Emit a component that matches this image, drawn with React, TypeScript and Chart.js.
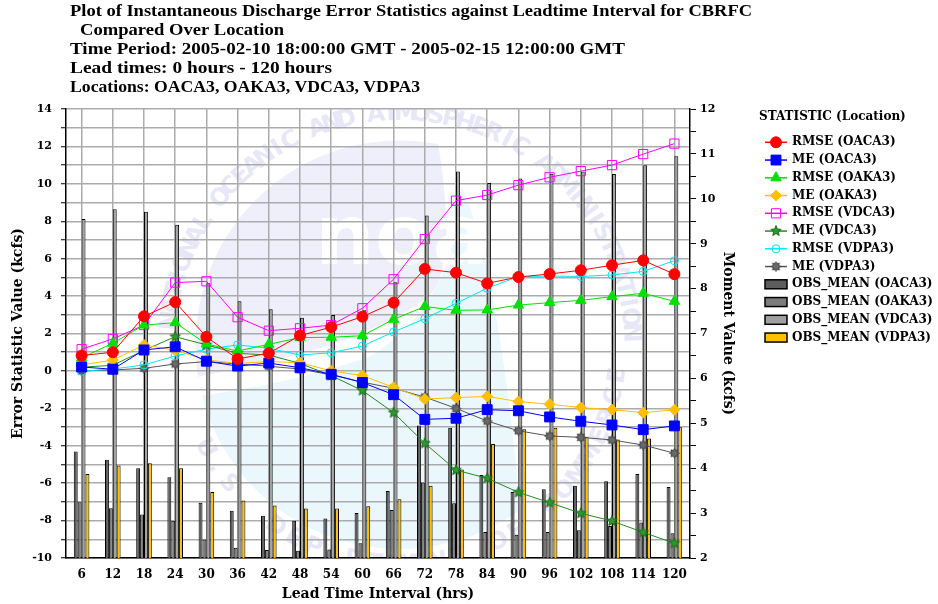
import React, { useEffect, useRef } from 'react';
import { Chart, registerables } from 'chart.js';

Chart.register(...registerables);

const leadTimes = ['6', '12', '18', '24', '30', '36', '42', '48', '54', '60', '66', '72', '78', '84', '90', '96', '102', '108', '114', '120'];

const rmseOACA3 = [0.82, 1.0, 2.92, 3.68, 1.82, 0.64, 0.95, 1.89, 2.34, 2.9, 3.65, 5.45, 5.25, 4.68, 5.02, 5.18, 5.38, 5.65, 5.91, 5.17];
const meOACA3 = [0.21, 0.09, 1.12, 1.29, 0.52, 0.26, 0.42, 0.17, -0.18, -0.62, -1.27, -2.59, -2.53, -2.07, -2.13, -2.46, -2.69, -2.89, -3.14, -2.94];
const rmseOAKA3 = [0.7, 1.48, 2.45, 2.58, 1.44, 1.06, 1.42, 1.78, 1.8, 1.88, 2.76, 3.44, 3.24, 3.26, 3.52, 3.65, 3.77, 3.97, 4.15, 3.72];
const meOAKA3 = [0.32, 0.58, 1.39, 1.1, 0.59, 0.4, 0.5, 0.44, 0.0, -0.25, -0.88, -1.5, -1.43, -1.36, -1.64, -1.78, -1.96, -2.07, -2.23, -2.08];
const rmseVDCA3 = [1.16, 1.71, 2.45, 4.72, 4.79, 2.87, 2.15, 2.28, 2.45, 3.35, 4.9, 7.05, 9.1, 9.4, 9.93, 10.35, 10.68, 11.0, 11.59, 12.15];
const meVDCA3 = [0.2, 0.3, 1.1, 1.83, 1.39, 0.94, 0.85, 0.4, -0.25, -1.05, -2.23, -3.87, -5.3, -5.74, -6.49, -7.04, -7.61, -8.02, -8.63, -9.21];
const rmseVDPA3 = [-0.02, 0.1, 0.32, 0.8, 1.16, 1.39, 1.21, 0.85, 0.97, 1.33, 2.08, 2.79, 3.61, 4.42, 5.04, 5.07, 5.05, 5.13, 5.32, 5.89];
const meVDPA3 = [0.0, 0.05, 0.14, 0.37, 0.5, 0.37, 0.25, 0.1, -0.21, -0.6, -0.93, -1.4, -2.0, -2.68, -3.2, -3.48, -3.55, -3.69, -3.96, -4.4];

const obsMeanOACA3 = [4.37, 4.19, 4.0, 3.8, 3.23, 3.05, 2.94, 2.83, 2.88, 3.0, 3.49, 4.95, 4.9, 3.85, 3.47, 3.53, 3.61, 3.71, 3.87, 3.58];
const obsMeanOAKA3 = [3.24, 3.11, 2.97, 2.83, 2.41, 2.23, 2.18, 2.16, 2.19, 2.33, 3.07, 3.68, 3.22, 2.58, 2.52, 2.58, 2.62, 2.71, 2.79, 2.55];
const obsMeanVDCA3 = [9.55, 9.77, 9.71, 9.42, 8.12, 7.72, 7.54, 7.35, 7.41, 7.52, 8.14, 9.63, 10.61, 10.35, 10.45, 10.56, 10.61, 10.55, 10.75, 10.95];
const obsMeanVDPA3 = [3.87, 4.06, 4.11, 4.0, 3.47, 3.28, 3.17, 3.1, 3.1, 3.15, 3.31, 3.61, 3.97, 4.54, 4.87, 4.9, 4.7, 4.64, 4.66, 4.91];

const titleLines = [
  'Plot of Instantaneous Discharge Error Statistics against Leadtime Interval for CBRFC',
  'Compared Over Location',
  'Time Period: 2005-02-10 18:00:00 GMT - 2005-02-15 12:00:00 GMT',
  'Lead times: 0 hours - 120 hours',
  'Locations: OACA3, OAKA3, VDCA3, VDPA3',
];

const legendTitle = 'STATISTIC (Location)';
const leftAxisTitle = 'Error Statistic Value (kcfs)';
const rightAxisTitle = 'Moment Value (kcfs)';
const bottomAxisTitle = 'Lead Time Interval (hrs)';

const SERIF = '"DejaVu Serif", serif';
const TITLE_FONT = 'bold 17px "Liberation Serif", serif';

function makeStar(fill: string, stroke: string, spikes: number, outer: number, inner: number) {
  const size = Math.ceil(outer * 2 + 3);
  const c = document.createElement('canvas');
  c.width = size;
  c.height = size;
  const ctx = c.getContext('2d')!;
  const cx = size / 2;
  const cy = size / 2;
  ctx.beginPath();
  for (let i = 0; i < spikes * 2; i++) {
    const r = i % 2 === 0 ? outer : inner;
    const a = -Math.PI / 2 + (i * Math.PI) / spikes;
    const x = cx + r * Math.cos(a);
    const y = cy + r * Math.sin(a);
    if (i === 0) ctx.moveTo(x, y);
    else ctx.lineTo(x, y);
  }
  ctx.closePath();
  ctx.fillStyle = fill;
  ctx.fill();
  ctx.strokeStyle = stroke;
  ctx.lineWidth = 1;
  ctx.stroke();
  return c;
}

function drawMarker(ctx: CanvasRenderingContext2D, style: any, x: number, y: number, r: number, fill: string, stroke: string) {
  if (typeof style !== 'string') {
    ctx.drawImage(style, x - style.width / 2, y - style.height / 2);
    return;
  }
  ctx.beginPath();
  if (style === 'circle') {
    ctx.arc(x, y, r, 0, Math.PI * 2);
  } else if (style === 'rect') {
    const s = r * Math.SQRT1_2;
    ctx.rect(x - s, y - s, 2 * s, 2 * s);
  } else if (style === 'rectRot') {
    ctx.moveTo(x, y - r);
    ctx.lineTo(x + r, y);
    ctx.lineTo(x, y + r);
    ctx.lineTo(x - r, y);
    ctx.closePath();
  } else if (style === 'triangle') {
    let a = 0;
    ctx.moveTo(x + Math.sin(a) * r, y - Math.cos(a) * r);
    a += (2 * Math.PI) / 3;
    ctx.lineTo(x + Math.sin(a) * r, y - Math.cos(a) * r);
    a += (2 * Math.PI) / 3;
    ctx.lineTo(x + Math.sin(a) * r, y - Math.cos(a) * r);
    ctx.closePath();
  }
  ctx.fillStyle = fill;
  ctx.fill();
  ctx.strokeStyle = stroke;
  ctx.lineWidth = 1;
  ctx.stroke();
}

function drawArcText(ctx: CanvasRenderingContext2D, text: string, cx: number, cy: number, R: number, a0: number, a1: number, bottom: boolean) {
  const n = text.length;
  for (let i = 0; i < n; i++) {
    const t = a0 + ((a1 - a0) * i) / (n - 1);
    ctx.save();
    ctx.translate(cx + R * Math.cos(t), cy + R * Math.sin(t));
    ctx.rotate(bottom ? t - Math.PI / 2 : t + Math.PI / 2);
    ctx.fillText(text[i], 0, 0);
    ctx.restore();
  }
}

function drawWatermark(chart: any) {
  const { ctx, chartArea: a } = chart;
  if (!a) return;
  const w = a.right - a.left;
  const h = a.bottom - a.top;
  const cx = a.left + w * 0.535;
  const cy = a.top + h * 0.525;
  const R = h * 0.455;
  ctx.save();
  ctx.beginPath();
  ctx.rect(a.left, a.top, w, h);
  ctx.clip();

  const lx = cx + R * Math.cos(Math.PI * 0.95);
  const ly = cy + R * Math.sin(Math.PI * 0.95);
  ctx.beginPath();
  ctx.arc(cx, cy, R, Math.PI * 0.95, Math.PI * 1.56);
  ctx.bezierCurveTo(cx + 0.25 * R, cy - 0.6 * R, cx + 0.25 * R, cy - 0.3 * R, cx + 0.12 * R, cy - 0.22 * R);
  ctx.bezierCurveTo(cx - 0.2 * R, cy + 0.0 * R, cx - 0.6 * R, cy + 0.08 * R, lx, ly);
  ctx.closePath();
  ctx.fillStyle = '#efeffb';
  ctx.fill();

  const lx2 = cx + R * Math.cos(Math.PI * 0.92);
  const ly2 = cy + R * Math.sin(Math.PI * 0.92);
  ctx.beginPath();
  ctx.arc(cx, cy, R, Math.PI * 0.92, Math.PI * 0.3, true);
  ctx.bezierCurveTo(cx + 0.55 * R, cy + 0.3 * R, cx + 0.45 * R, cy - 0.45 * R, cx + 0.3 * R, cy - 0.78 * R);
  ctx.bezierCurveTo(cx + 0.28 * R, cy - 0.4 * R, cx + 0.15 * R, cy - 0.12 * R, cx - 0.15 * R, cy + 0.06 * R);
  ctx.bezierCurveTo(cx - 0.45 * R, cy + 0.16 * R, cx - 0.75 * R, cy + 0.22 * R, lx2, ly2);
  ctx.closePath();
  ctx.fillStyle = '#eaf7fd';
  ctx.fill();

  ctx.fillStyle = '#ffffff';
  ctx.font = 'bold 84px "DejaVu Sans", sans-serif';
  ctx.textAlign = 'center';
  ctx.textBaseline = 'middle';
  ctx.fillText('noaa', cx + 0.15 * R, cy - 0.5 * R);

  ctx.fillStyle = '#e7e7f7';
  ctx.font = 'bold 24px "DejaVu Sans", sans-serif';
  drawArcText(ctx, 'NATIONAL OCEANIC AND ATMOSPHERIC ADMINISTRATION', cx, cy, R * 1.13, (-174 * Math.PI) / 180, (-3 * Math.PI) / 180, false);
  drawArcText(ctx, 'U.S. DEPARTMENT OF COMMERCE', cx, cy, R * 1.08, (152 * Math.PI) / 180, (8 * Math.PI) / 180, true);
  ctx.restore();
}

// left edge, centre y and right edge of each title line
const titleLayout = [
  [70, 12, 752],
  [80, 31, 284],
  [70, 50, 625],
  [70, 69, 332],
  [70, 88, 420],
];

function drawTitles(chart: any) {
  const { ctx } = chart;
  ctx.save();
  ctx.fillStyle = '#000';
  ctx.font = TITLE_FONT;
  ctx.textAlign = 'left';
  ctx.textBaseline = 'middle';
  titleLines.forEach((line, i) => {
    const [x0, y, x1] = titleLayout[i];
    const m = ctx.measureText(line).width;
    const sx = (x1 - x0) / m;
    ctx.save();
    ctx.translate(x0, y);
    ctx.scale(sx, 1);
    ctx.fillText(line, 0, 0);
    ctx.restore();
  });
  ctx.restore();
}

function drawLegend(chart: any) {
  const { ctx } = chart;
  const x0 = 765;
  const x1 = 787;
  const xm = 776;
  const xt = 792;
  ctx.save();
  ctx.fillStyle = '#000';
  ctx.font = `bold 12px ${SERIF}`;
  ctx.textAlign = 'left';
  ctx.textBaseline = 'middle';
  ctx.fillText(legendTitle, 759, 117);
  chart.data.datasets.forEach((ds: any, i: number) => {
    const y = 142.3 + i * 17.75;
    if (ds.type === 'line') {
      ctx.strokeStyle = ds.borderColor;
      ctx.lineWidth = 1.5;
      ctx.beginPath();
      ctx.moveTo(x0, y);
      ctx.lineTo(x1, y);
      ctx.stroke();
      drawMarker(ctx, ds.pointStyle, xm, y, ds.pointRadius, ds.pointBackgroundColor, ds.pointBorderColor);
    } else {
      ctx.fillStyle = ds.backgroundColor;
      ctx.fillRect(x0, y - 4.5, x1 - x0, 9);
      ctx.strokeStyle = '#000';
      ctx.lineWidth = 1.5;
      ctx.strokeRect(x0, y - 4.5, x1 - x0, 9);
    }
    ctx.fillStyle = '#000';
    ctx.fillText(ds.label, xt, y);
  });
  ctx.restore();
}

const decorPlugin = {
  id: 'decor',
  beforeDraw(chart: any) {
    drawWatermark(chart);
  },
  afterDraw(chart: any) {
    drawTitles(chart);
    drawLegend(chart);
  },
};

export default function App() {
  const ref = useRef<HTMLCanvasElement | null>(null);

  useEffect(() => {
    if (!ref.current) return;
    const greenStar = makeStar('#2e9a2e', '#1a6a1a', 5, 5.5, 2.4);
    const grayStar = makeStar('#6a6a6a', '#444444', 8, 5, 2.8);

    const line = (label: string, data: number[], color: string, pointStyle: any, radius: number, fill: string) => ({
      type: 'line' as const,
      label,
      data,
      yAxisID: 'y',
      borderColor: color,
      backgroundColor: fill,
      borderWidth: 1,
      pointStyle,
      pointRadius: radius,
      pointHoverRadius: radius,
      pointBorderColor: color,
      pointBackgroundColor: fill,
      pointBorderWidth: 1,
      tension: 0,
      fill: false,
      order: 0,
    });
    const bar = (label: string, data: number[], color: string) => ({
      type: 'bar' as const,
      label,
      data,
      yAxisID: 'y2',
      backgroundColor: color,
      borderColor: '#000',
      borderWidth: 1,
      categoryPercentage: 0.5,
      barPercentage: 1.0,
      order: 1,
    });

    const chart = new Chart(ref.current, {
      type: 'bar',
      data: {
        labels: leadTimes,
        datasets: [
          line('RMSE (OACA3)', rmseOACA3, '#ff0000', 'circle', 5.5, '#ff0000'),
          line('ME (OACA3)', meOACA3, '#0000ff', 'rect', 7, '#0000ff'),
          line('RMSE (OAKA3)', rmseOAKA3, '#00e000', 'triangle', 6, '#00e000'),
          line('ME (OAKA3)', meOAKA3, '#ffc000', 'rectRot', 5.5, '#ffc000'),
          line('RMSE (VDCA3)', rmseVDCA3, '#ff00ff', 'rect', 6.5, 'rgba(255,255,255,0)'),
          line('ME (VDCA3)', meVDCA3, '#228b22', greenStar, 5, '#228b22'),
          line('RMSE (VDPA3)', rmseVDPA3, '#00e8f0', 'circle', 4, 'rgba(255,255,255,0)'),
          line('ME (VDPA3)', meVDPA3, '#555555', grayStar, 5, '#666666'),
          bar('OBS_MEAN (OACA3)', obsMeanOACA3, '#5c5c5c'),
          bar('OBS_MEAN (OAKA3)', obsMeanOAKA3, '#7c7c7c'),
          bar('OBS_MEAN (VDCA3)', obsMeanVDCA3, '#a0a0a0'),
          bar('OBS_MEAN (VDPA3)', obsMeanVDPA3, '#ffc000'),
        ] as any,
      },
      options: {
        responsive: false,
        animation: false,
        devicePixelRatio: 1,
        layout: { padding: { left: 0, right: 188, top: 109, bottom: 0 } },
        plugins: {
          legend: { display: false },
          title: { display: false },
          tooltip: { enabled: false },
        },
        scales: {
          x: {
            type: 'category',
            offset: true,
            grid: { offset: false, color: '#ababab', lineWidth: 1.5, drawTicks: false },
            border: { color: '#000', width: 1.5 },
            ticks: {
              color: '#000',
              font: { family: SERIF, weight: 'bold', size: 12 },
              padding: 10,
              maxRotation: 0,
              autoSkip: false,
            },
            title: {
              display: true,
              text: bottomAxisTitle,
              color: '#000',
              font: { family: SERIF, weight: 'bold', size: 14 },
              padding: { top: 0, bottom: 1 },
            },
            afterFit: (s: any) => {
              s.height = 46;
            },
          },
          y: {
            type: 'linear',
            position: 'left',
            min: -10,
            max: 14,
            grid: { color: '#ababab', lineWidth: 1.5, tickColor: '#000', tickLength: 5, tickWidth: 1 },
            border: { color: '#000', width: 1.5 },
            ticks: {
              stepSize: 1,
              autoSkip: false,
              color: '#000',
              padding: 9,
              font: { family: SERIF, weight: 'bold', size: 11 },
              callback: (v: any) => (Math.round(v) % 2 === 0 ? String(v) : ''),
            },
            title: {
              display: true,
              text: leftAxisTitle,
              color: '#000',
              font: { family: SERIF, weight: 'bold', size: 14 },
              padding: { top: 10, bottom: 0 },
            },
            afterFit: (s: any) => {
              s.width = 66;
            },
          },
          y2: {
            type: 'linear',
            position: 'right',
            min: 2,
            max: 12,
            grid: { drawOnChartArea: false, tickColor: '#000', tickLength: 6, tickWidth: 1 },
            border: { color: '#000', width: 1.5 },
            ticks: {
              stepSize: 0.5,
              autoSkip: false,
              color: '#000',
              padding: 4,
              font: { family: SERIF, weight: 'bold', size: 11 },
              callback: (v: any) => (Number.isInteger(v) ? String(v) : ''),
            },
            title: {
              display: true,
              text: rightAxisTitle,
              color: '#000',
              font: { family: SERIF, weight: 'bold', size: 14 },
              padding: { top: 14, bottom: 0 },
            },
            afterFit: (s: any) => {
              s.width = 60;
            },
          },
        },
      } as any,
      plugins: [decorPlugin],
    });
    return () => chart.destroy();
  }, []);

  return (
    <div style={{ position: 'fixed', left: 0, top: 0, width: 938, height: 604, background: '#fff' }}>
      <canvas ref={ref} width={938} height={604} style={{ display: 'block' }} />
    </div>
  );
}
